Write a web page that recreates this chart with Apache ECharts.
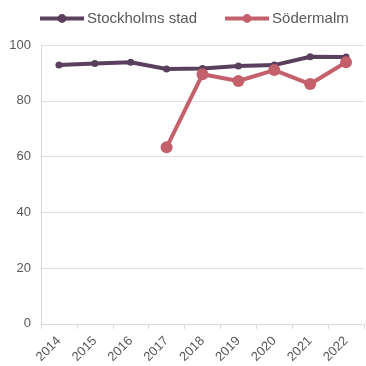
<!DOCTYPE html>
<html>
<head>
<meta charset="utf-8">
<script src="https://cdn.jsdelivr.net/npm/echarts@6/dist/echarts.min.js"></script>
<style>
  html, body { margin: 0; padding: 0; background: #fff; }
  #chart { width: 366px; height: 366px; }
</style>
</head>
<body>
<div id="chart"></div>
<script>
const years = ['2014', '2015', '2016', '2017', '2018', '2019', '2020', '2021', '2022'];
const stockholm = [92.8, 93.4, 93.8, 91.4, 91.6, 92.5, 92.8, 95.8, 95.7];
const sodermalm = [null, null, null, 63.3, 89.5, 87.1, 91.0, 86.0, 93.8];
const yTicks = { min: 0, max: 100, interval: 20 };

const textColor = '#595959';
const font = "'Liberation Sans', Arial, sans-serif";

const chart = echarts.init(document.getElementById('chart'), null, { renderer: 'canvas' });
chart.setOption({
  animation: false,
  legend: {
    top: 6,
    left: 33,
    itemGap: 26,
    itemWidth: 44,
    itemHeight: 11,
    lineStyle: { width: 4 },
    textStyle: { color: textColor, fontSize: 15, fontFamily: font, padding: [0, 0, 0, -2] },
    data: ['Stockholms stad', 'Södermalm']
  },
  grid: { left: 41, right: 2, top: 45, bottom: 42, containLabel: false },
  xAxis: {
    type: 'category',
    data: years,
    boundaryGap: true,
    axisLine: { lineStyle: { color: '#d9d9d9', width: 1 } },
    axisTick: { show: true, alignWithLabel: false, length: 5, lineStyle: { color: '#d9d9d9' } },
    axisLabel: { color: textColor, fontSize: 13, fontFamily: font, rotate: 45, margin: 15 },
    splitLine: { show: false }
  },
  yAxis: {
    type: 'value',
    min: yTicks.min,
    max: yTicks.max,
    interval: yTicks.interval,
    axisLine: { show: true, lineStyle: { color: '#d9d9d9' } },
    axisTick: { show: false },
    axisLabel: { color: textColor, fontSize: 13, fontFamily: font, margin: 10 },
    splitLine: { lineStyle: { color: '#e0e0e0', width: 1 } }
  },
  series: [
    {
      name: 'Stockholms stad',
      type: 'line',
      data: stockholm,
      symbol: 'circle',
      symbolSize: 7,
      lineStyle: { color: '#5b3f5e', width: 4 },
      itemStyle: { color: '#5b3f5e' },
      z: 2
    },
    {
      name: 'Södermalm',
      type: 'line',
      data: sodermalm,
      symbol: 'circle',
      symbolSize: 12,
      lineStyle: { color: '#c4606b', width: 4 },
      itemStyle: { color: '#c4606b' },
      z: 3
    }
  ]
});
</script>
</body>
</html>
